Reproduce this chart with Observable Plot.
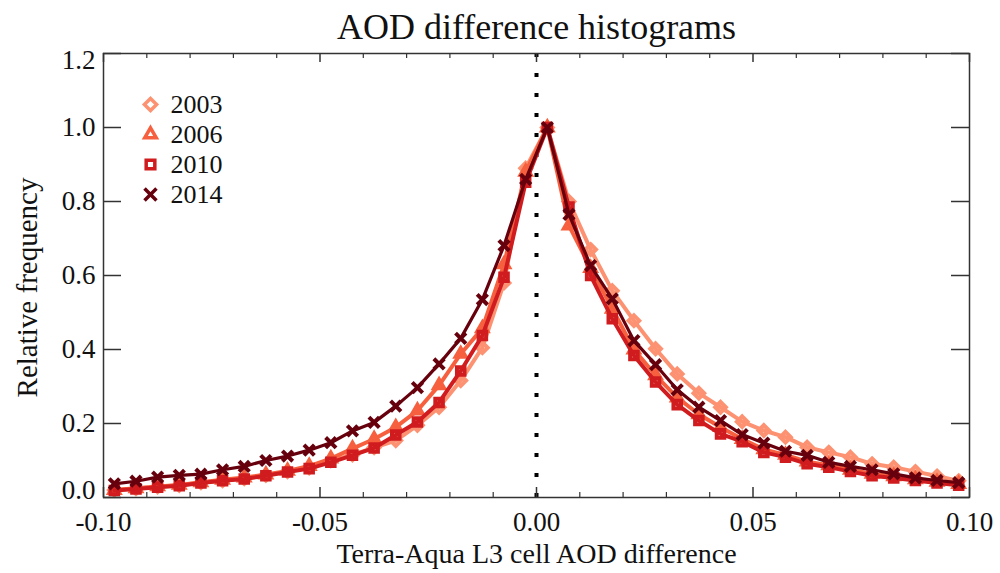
<!DOCTYPE html>
<html>
<head>
<meta charset="utf-8">
<script src="https://cdn.jsdelivr.net/npm/d3@7"></script>
<script src="https://cdn.jsdelivr.net/npm/@observablehq/plot@0.6"></script>
<style>
  html, body { margin: 0; padding: 0; background: #fff; }
  #chart svg { display: block; }
</style>
</head>
<body>
<div id="chart"></div>
<script>
// ---- data ----
const binCenters = [
  -0.0975, -0.0925, -0.0875, -0.0825, -0.0775, -0.0725, -0.0675, -0.0625, -0.0575, -0.0525,
  -0.0475, -0.0425, -0.0375, -0.0325, -0.0275, -0.0225, -0.0175, -0.0125, -0.0075, -0.0025,
   0.0025,  0.0075,  0.0125,  0.0175,  0.0225,  0.0275,  0.0325,  0.0375,  0.0425,  0.0475,
   0.0525,  0.0575,  0.0625,  0.0675,  0.0725,  0.0775,  0.0825,  0.0875,  0.0925,  0.0975
];
const freq2003 = [
  0.020, 0.024, 0.029, 0.033, 0.040, 0.046, 0.051, 0.060, 0.070, 0.080,
  0.100, 0.115, 0.135, 0.154, 0.195, 0.244, 0.316, 0.405, 0.580, 0.890,
  1.000, 0.800, 0.670, 0.559, 0.478, 0.402, 0.334, 0.282, 0.244, 0.205,
  0.181, 0.163, 0.136, 0.122, 0.109, 0.091, 0.082, 0.070, 0.058, 0.045
];
const freq2006 = [
  0.020, 0.025, 0.030, 0.034, 0.041, 0.048, 0.054, 0.062, 0.072, 0.085,
  0.105, 0.132, 0.158, 0.190, 0.235, 0.303, 0.388, 0.457, 0.630, 0.880,
  1.000, 0.735, 0.620, 0.510, 0.400, 0.330, 0.270, 0.225, 0.190, 0.158,
  0.130, 0.115, 0.097, 0.087, 0.075, 0.064, 0.057, 0.049, 0.042, 0.036
];
const freq2010 = [
  0.019, 0.023, 0.028, 0.032, 0.039, 0.045, 0.050, 0.059, 0.069, 0.078,
  0.095, 0.114, 0.134, 0.169, 0.204, 0.257, 0.342, 0.438, 0.595, 0.852,
  1.000, 0.785, 0.600, 0.483, 0.384, 0.312, 0.251, 0.208, 0.172, 0.151,
  0.122, 0.109, 0.091, 0.082, 0.070, 0.059, 0.053, 0.046, 0.039, 0.033
];
const freq2014 = [
  0.037, 0.044, 0.055, 0.060, 0.063, 0.075, 0.084, 0.100, 0.112, 0.128,
  0.148, 0.180, 0.203, 0.247, 0.297, 0.361, 0.430, 0.535, 0.681, 0.860,
  1.000, 0.765, 0.627, 0.537, 0.424, 0.359, 0.291, 0.244, 0.208, 0.170,
  0.147, 0.125, 0.114, 0.095, 0.084, 0.075, 0.064, 0.053, 0.046, 0.040
];
const years = ["2003", "2006", "2010", "2014"];
const seriesValues = [freq2003, freq2006, freq2010, freq2014];
const colors = ["#fc9272", "#f6603f", "#d01c1f", "#67000d"];
const symbols = ["diamond2", "triangle2", "square2", "times"];
const xMajorTicks = [-0.10, -0.05, 0.00, 0.05, 0.10];
const xMinorTicks = [-0.09, -0.08, -0.07, -0.06, -0.04, -0.03, -0.02, -0.01,
                      0.01, 0.02, 0.03, 0.04, 0.06, 0.07, 0.08, 0.09];
const yTicks = [0.0, 0.2, 0.4, 0.6, 0.8, 1.0, 1.2];
const title = "AOD difference histograms";
const xLabel = "Terra-Aqua L3 cell AOD difference";
const yLabel = "Relative frequency";

// ---- build table ----
const rows = [];
years.forEach((yr, k) => {
  seriesValues[k].forEach((v, i) => rows.push({x: binCenters[i], y: v, year: yr}));
});

const W = 1000, H = 573;
const mL = 103, mR = 31, mT = 53, mB = 76;
const frameW = W - mL - mR, frameH = H - mT - mB;
const font = "'Liberation Serif', 'DejaVu Serif', serif";

const marks = [];

// dotted zero line
marks.push(Plot.ruleX([0], {stroke: "black", strokeWidth: 4, strokeDasharray: "4,16"}));

// series
years.forEach((yr, k) => {
  const data = rows.filter(r => r.year === yr);
  marks.push(Plot.line(data, {x: "x", y: "y", stroke: colors[k], strokeWidth: k === 3 ? 3.2 : 4}));
  marks.push(Plot.dot(data, {x: "x", y: "y", stroke: colors[k], symbol: () => symbols[k],
    r: 4.8, strokeWidth: 4, fill: "none"}));
});

// frame
marks.push(Plot.frame({stroke: "#333", strokeWidth: 1.5}));

// inward ticks: bottom & top
marks.push(Plot.tickX(xMajorTicks, {x: d => d, stroke: "#333", strokeWidth: 1.5, insetTop: frameH - 10}));
marks.push(Plot.tickX(xMinorTicks, {x: d => d, stroke: "#333", strokeWidth: 1.2, insetTop: frameH - 5}));
marks.push(Plot.tickX(xMajorTicks, {x: d => d, stroke: "#333", strokeWidth: 1.5, insetBottom: frameH - 9}));
marks.push(Plot.tickX(xMinorTicks, {x: d => d, stroke: "#333", strokeWidth: 1.2, insetBottom: frameH - 5}));
// inward ticks: left & right
marks.push(Plot.tickY(yTicks, {y: d => d, stroke: "#333", strokeWidth: 1.5, insetRight: frameW - 18}));
marks.push(Plot.tickY(yTicks, {y: d => d, stroke: "#333", strokeWidth: 1.5, insetLeft: frameW - 18}));

// tick labels
marks.push(Plot.axisX({ticks: xMajorTicks, tickSize: 0, tickPadding: 14, fontSize: 27,
  tickFormat: d => d.toFixed(2), label: null, fill: "#111"}));
marks.push(Plot.axisY({ticks: yTicks.slice(1, -1), tickSize: 0, tickPadding: 8, fontSize: 27,
  tickFormat: d => d.toFixed(1), label: null, fill: "#111"}));
marks.push(Plot.axisY({ticks: [yTicks[0]], tickSize: 0, tickPadding: 8, fontSize: 27, dy: -7,
  tickFormat: d => d.toFixed(1), label: null, fill: "#111"}));
marks.push(Plot.axisY({ticks: [yTicks[yTicks.length - 1]], tickSize: 0, tickPadding: 8, fontSize: 27, dy: 7,
  tickFormat: d => d.toFixed(1), label: null, fill: "#111"}));

// axis titles and chart title
marks.push(Plot.text([title], {text: d => d, frameAnchor: "top", lineAnchor: "middle", textAnchor: "middle",
  dy: -26, fontSize: 36, fill: "#111"}));
marks.push(Plot.text([xLabel], {text: d => d, frameAnchor: "bottom", lineAnchor: "middle", textAnchor: "middle",
  dy: 57, fontSize: 28, fill: "#111"}));
marks.push(Plot.text([yLabel], {text: d => d, frameAnchor: "left", lineAnchor: "middle", textAnchor: "middle",
  rotate: -90, dx: -76, dy: 12, fontSize: 29, fill: "#111"}));

// legend
years.forEach((yr, k) => {
  marks.push(Plot.dot([yr], {frameAnchor: "top-left", dx: 47, dy: 51 + 30 * k, r: 5.5, symbol: () => symbols[k],
    stroke: colors[k], strokeWidth: 3.5, fill: "none"}));
  marks.push(Plot.text([yr], {text: d => d, frameAnchor: "top-left", dx: 67, dy: 51 + 30 * k,
    textAnchor: "start", lineAnchor: "middle", fontSize: 26, fill: "#111"}));
});

const chart = Plot.plot({
  width: W, height: H,
  marginLeft: mL, marginRight: mR, marginTop: mT, marginBottom: mB,
  style: {fontFamily: font, background: "white"},
  x: {domain: [-0.1, 0.1]},
  y: {domain: [0, 1.2]},
  symbol: {type: "identity"},
  marks
});
document.getElementById("chart").appendChild(chart);
</script>
</body>
</html>
